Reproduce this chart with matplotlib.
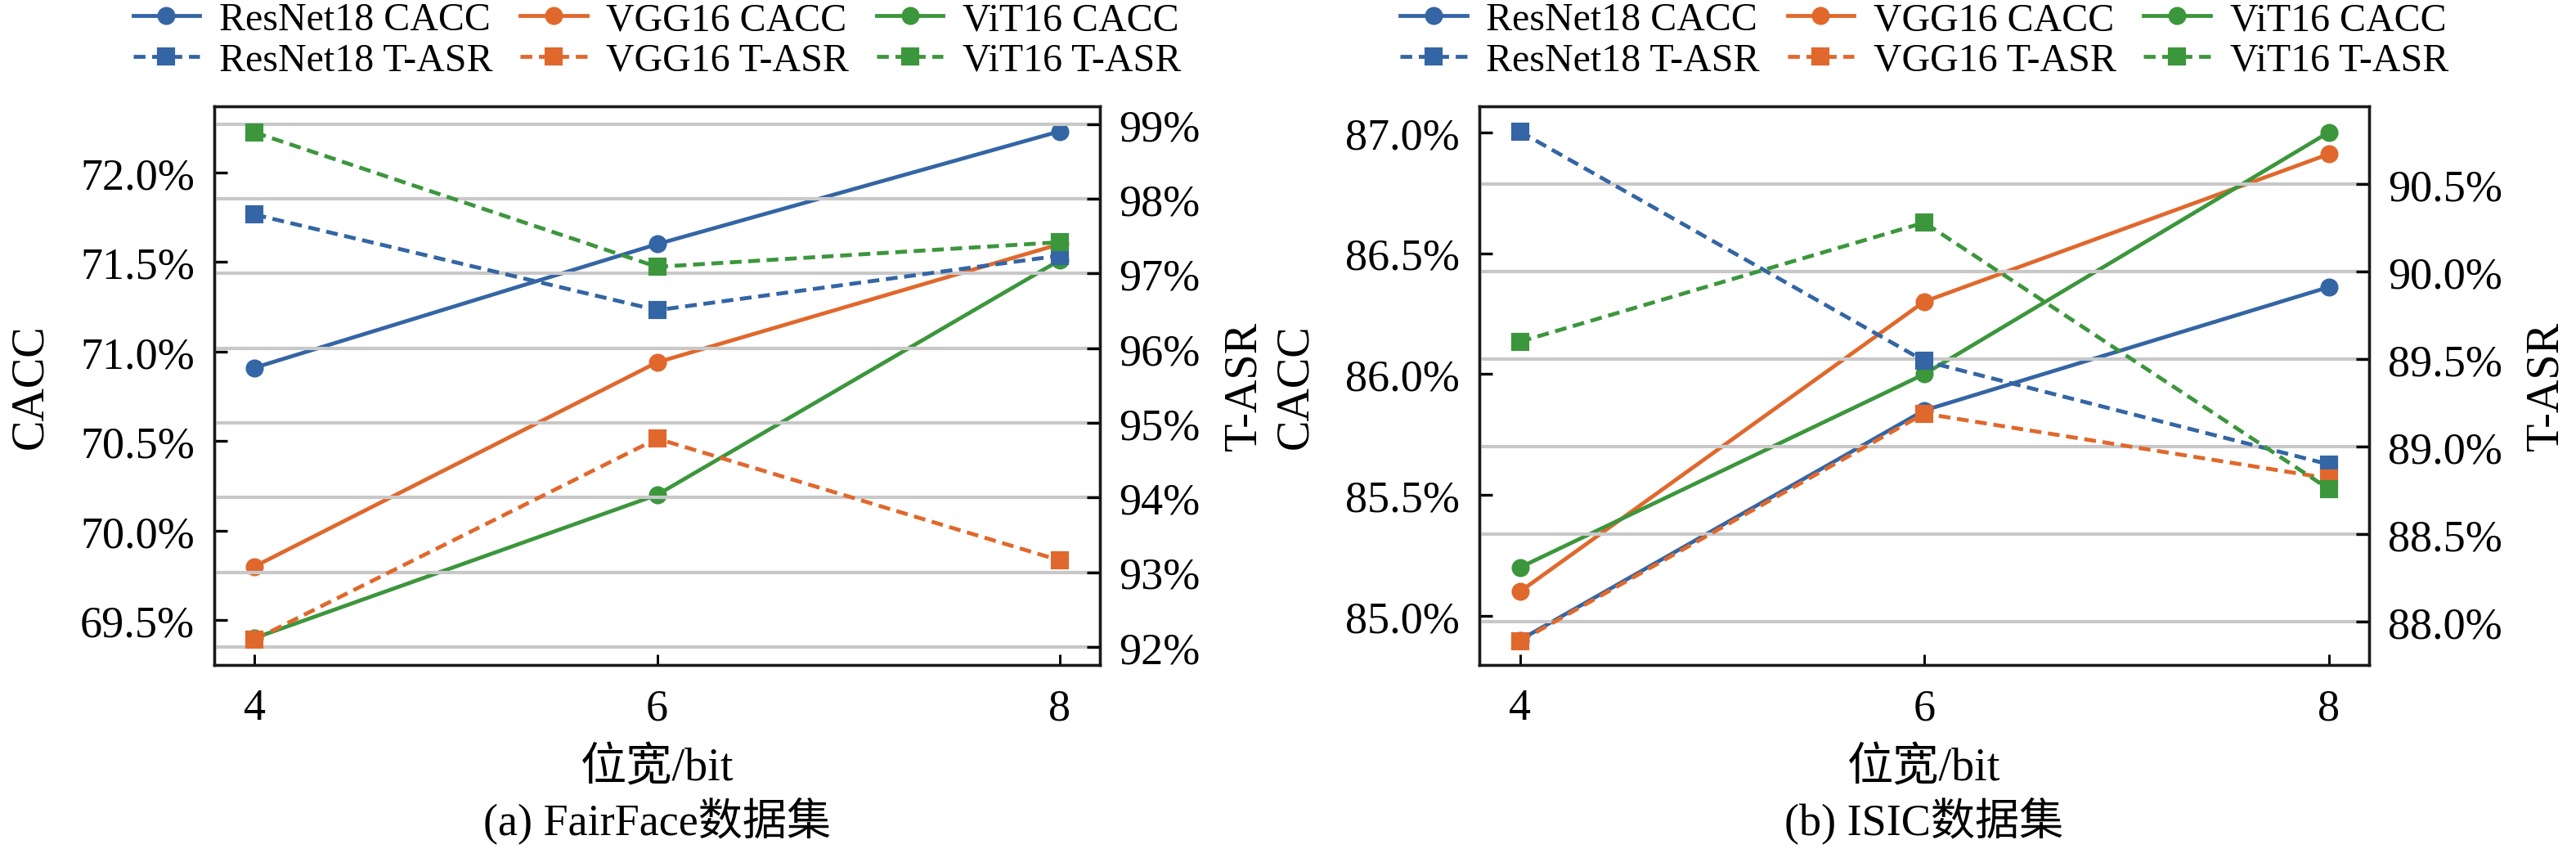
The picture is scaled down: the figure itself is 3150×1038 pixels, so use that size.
import matplotlib
matplotlib.use('Agg')
import matplotlib.pyplot as plt
from matplotlib.ticker import FixedLocator, FuncFormatter

plt.rcParams['font.family'] = ['Liberation Serif', 'Noto Sans CJK SC']
plt.rcParams['axes.unicode_minus'] = False

# data
bits = [4, 6, 8]
models = ['ResNet18', 'VGG16', 'ViT16']
colors = ['#3465a4', '#e0682c', '#3c963c']

# (a) FairFace
fairface_cacc = {
    'ResNet18': [70.91, 71.60, 72.23],
    'VGG16': [69.80, 70.94, 71.60],
    'ViT16': [69.40, 70.20, 71.51],
}
fairface_tasr = {
    'ResNet18': [97.79, 96.51, 97.24],
    'VGG16': [92.10, 94.79, 93.16],
    'ViT16': [98.89, 97.09, 97.42],
}
# (b) ISIC
isic_cacc = {
    'ResNet18': [84.90, 85.85, 86.36],
    'VGG16': [85.10, 86.30, 86.91],
    'ViT16': [85.20, 86.00, 87.00],
}
isic_tasr = {
    'ResNet18': [90.80, 89.49, 88.90],
    'VGG16': [87.89, 89.19, 88.82],
    'ViT16': [89.60, 90.28, 88.76],
}

fairface_cacc_ticks = [69.5, 70.0, 70.5, 71.0, 71.5, 72.0]
fairface_tasr_ticks = [92, 93, 94, 95, 96, 97, 98, 99]
isic_cacc_ticks = [85.0, 85.5, 86.0, 86.5, 87.0]
isic_tasr_ticks = [88.0, 88.5, 89.0, 89.5, 90.0, 90.5]

panels = [
    dict(cacc=fairface_cacc, tasr=fairface_tasr,
         cacc_ticks=fairface_cacc_ticks, tasr_ticks=fairface_tasr_ticks,
         cacc_lim=(69.25, 72.37), tasr_lim=(91.76, 99.24),
         cacc_fmt='%.1f%%', tasr_fmt='%d%%',
         caption='(a) FairFace数据集', rect=[0.0832, 0.2166, 0.3438, 0.6574]),
    dict(cacc=isic_cacc, tasr=isic_tasr,
         cacc_ticks=isic_cacc_ticks, tasr_ticks=isic_tasr_ticks,
         cacc_lim=(84.797, 87.108), tasr_lim=(87.755, 90.944),
         cacc_fmt='%.1f%%', tasr_fmt='%.1f%%',
         caption='(b) ISIC数据集', rect=[0.5743, 0.2166, 0.3454, 0.6574]),
]

fig = plt.figure(figsize=(10.5, 3.4633), dpi=300)

for p in panels:
    ax1 = fig.add_axes(p['rect'])
    ax2 = ax1.twinx()

    handles = []
    for m, c in zip(models, colors):
        h1, = ax1.plot(bits, p['cacc'][m], color=c, lw=1.15, marker='o',
                       markersize=4.3, label=f'{m} CACC')
        h2, = ax2.plot(bits, p['tasr'][m], color=c, lw=1.15, ls='--',
                       dashes=(3.0, 1.7), marker='s', markersize=4.3,
                       label=f'{m} T-ASR')
        handles += [h1, h2]

    ax1.set_ylim(*p['cacc_lim'])
    ax2.set_ylim(*p['tasr_lim'])
    ax1.set_xticks(bits)
    ax1.yaxis.set_major_locator(FixedLocator(p['cacc_ticks']))
    ax2.yaxis.set_major_locator(FixedLocator(p['tasr_ticks']))
    fmt1, fmt2 = p['cacc_fmt'], p['tasr_fmt']
    ax1.yaxis.set_major_formatter(FuncFormatter(lambda v, pos, f=fmt1: f % v))
    ax2.yaxis.set_major_formatter(FuncFormatter(lambda v, pos, f=fmt2: f % v))

    ax2.grid(axis='y', color='#c8c8c8', lw=1.0)
    ax2.set_axisbelow(True)

    ax1.tick_params(axis='y', direction='in', length=3.8, width=0.8,
                    pad=5.8, labelsize=13)
    ax2.tick_params(axis='y', direction='in', length=3.8, width=0.8,
                    pad=5.5, labelsize=13)
    ax1.tick_params(axis='x', direction='in', length=3.2, width=0.7,
                    pad=6.7, labelsize=13)
    for ax in (ax1, ax2):
        for s in ax.spines.values():
            s.set_linewidth(0.8)
            s.set_color('#1a1a1a')

    ax1.set_ylabel('CACC', fontsize=13.5, labelpad=8.4)
    ax2.set_ylabel('T-ASR', fontsize=13.5, labelpad=6.7)
    ax1.set_xlabel('位宽/bit', fontsize=13.5, labelpad=5.0)

    ax2.legend(handles=handles, ncol=3, loc='lower center',
               bbox_to_anchor=(0.5, 1.05), frameon=False, fontsize=11.5,
               handlelength=1.7, handletextpad=0.5, columnspacing=0.7,
               labelspacing=0.12, borderpad=0.0, borderaxespad=0.0)

    r = p['rect']
    fig.text(r[0] + r[2] / 2, 0.033, p['caption'], ha='center', va='center',
             fontsize=13)

fig.savefig('out.png', dpi=300)
